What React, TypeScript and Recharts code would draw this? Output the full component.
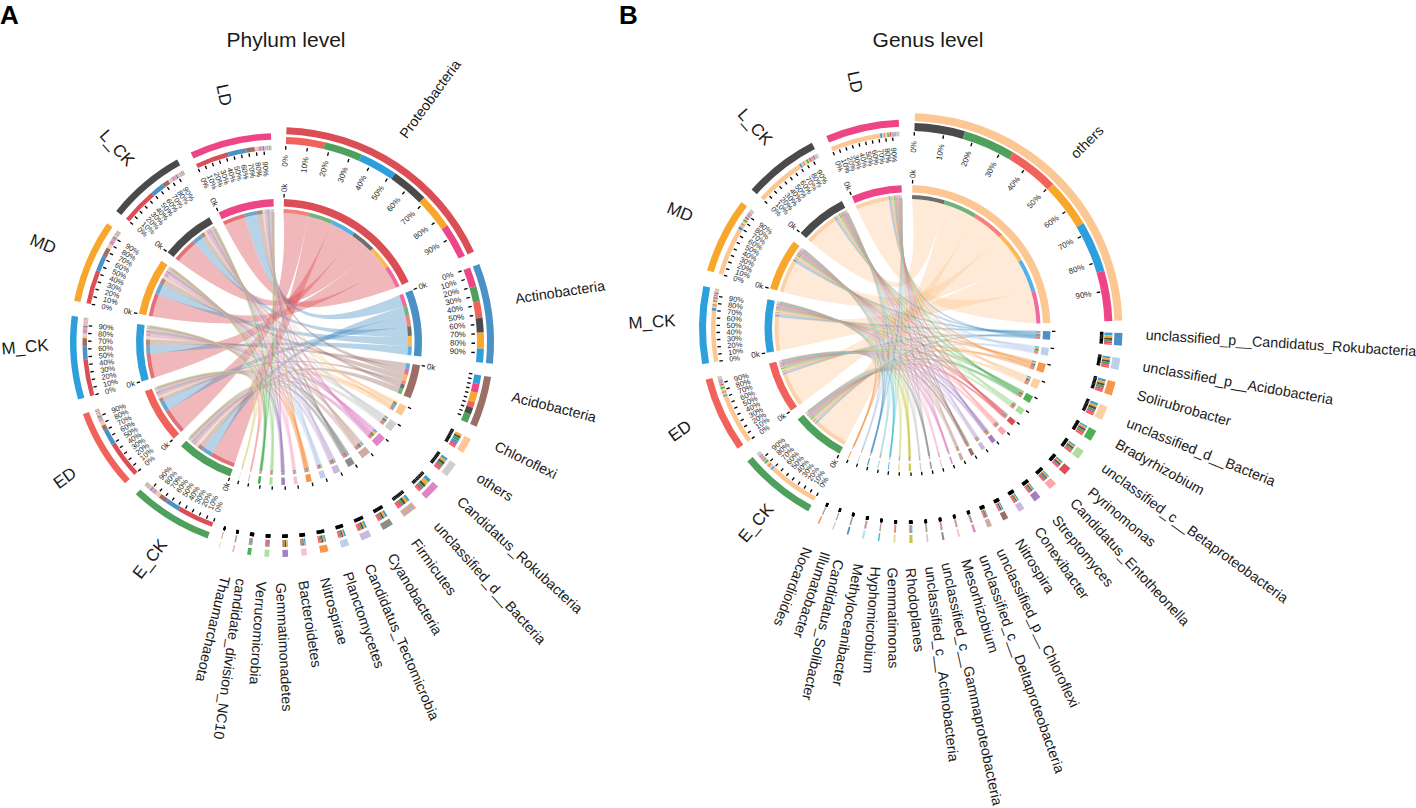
import React from 'react';
import { PieChart, Pie, Cell } from 'recharts';

const samples = ['E_CK', 'ED', 'M_CK', 'MD', 'L_CK', 'LD'];
const sampleColors = ['#4fa05c', '#f1625a', '#2d9fdc', '#f9a72c', '#4a4a4a', '#ee4587'];
const defaultOrder = [2, 3, 4, 0, 5, 1];

const phylumNames = ['Proteobacteria', 'Actinobacteria', 'Acidobacteria', 'Chloroflexi', 'others', 'Candidatus_Rokubacteria', 'unclassified_d__Bacteria', 'Firmicutes', 'Cyanobacteria', 'Candidatus_Tectomicrobia', 'Planctomycetes', 'Nitrospirae', 'Bacteroidetes', 'Gemmatimonadetes', 'Verrucomicrobia', 'candidate_division_NC10', 'Thaumarchaeota'];
const phylumColors = ['#dc4e56', '#4a92c5', '#9c6f66', '#fdc793', '#cfcfcf', '#e186c4', '#cdaca4', '#8c8c8c', '#c9b9dc', '#bcd0ec', '#f8964a', '#f8bfd8', '#a47fc2', '#aede9f', '#4eaf54', '#fba8aa', '#e1e19b'];
const phylumValues = [
  [47.5, 48, 47, 44, 46.5, 43],
  [19, 20.5, 17, 20, 18, 24],
  [11, 7, 11, 12, 8.5, 11],
  [4, 3, 3.5, 3, 2.5, 2.5],
  [3, 3, 3, 3, 3, 2.5],
  [3, 2, 4, 5, 3, 3],
  [3, 3, 3, 3, 3, 2.5],
  [2, 2, 2.5, 2.5, 2, 2],
  [2, 2, 2, 2, 2, 2],
  [1.5, 1.5, 2, 1.5, 1.5, 1.5],
  [1.5, 1.5, 1.5, 2, 1.5, 1.5],
  [1, 1, 1.5, 1, 1, 1],
  [1, 1, 1, 1, 1.5, 1],
  [1, 1, 1, 0.5, 1, 1],
  [0.8, 0.8, 0.8, 0.7, 0.7, 0.7],
  [0.3, 0.3, 0.4, 0.3, 0.3, 0.3],
  [0.1, 0.2, 0.2, 0.2, 0.1, 0.2],
];
const phylumOrders: Record<number, number[]> = {
  0: [1, 0, 2, 4, 3, 5],
  1: [5, 0, 1, 4, 3, 2],
  2: [2, 5, 3, 1, 4, 0],
  3: [3, 4, 0, 2, 5, 1],
};

const genusNames = ['others', 'unclassified_p__Candidatus_Rokubacteria', 'unclassified_p__Acidobacteria', 'Solirubrobacter', 'unclassified_d__Bacteria', 'Bradyrhizobium', 'unclassified_c__Betaproteobacteria', 'Pyrinomonas', 'Candidatus_Entotheonella', 'Streptomyces', 'Conexibacter', 'Nitrospira', 'unclassified_p__Chloroflexi', 'unclassified_c__Deltaproteobacteria', 'Mesorhizobium', 'unclassified_c__Gammaproteobacteria', 'unclassified_c__Actinobacteria', 'Rhodoplanes', 'Gemmatimonas', 'Hyphomicrobium', 'Methyloceanibacter', 'Candidatus_Solibacter', 'Illumatobacter', 'Nocardioides'];
const genusColors = ['#fdc793', '#4a92c5', '#bcd0ec', '#f8964a', '#fdcfa3', '#4eaf54', '#aede9f', '#dc4e56', '#fba8aa', '#a47fc2', '#c9b9dc', '#9c6f66', '#cdaca4', '#e186c4', '#f8bfd8', '#8c8c8c', '#cfcfcf', '#c6c640', '#e1e19b', '#3fbfd2', '#aedfe8', '#4a92c5', '#bcd0ec', '#f8964a'];
const genusValues = [
  [69, 67, 68, 65, 67, 67],
  [2, 2, 3.5, 3.5, 2.5, 2.5],
  [3, 2.5, 2.5, 2.5, 2.5, 2],
  [3.5, 3, 3, 3, 2.5, 2.5],
  [3, 3, 3, 3, 3, 2.5],
  [2.5, 2.5, 2, 2.5, 2.5, 2],
  [2, 2.5, 2, 2, 2, 1.5],
  [1.5, 1.5, 2, 2, 2, 1.5],
  [2, 1.5, 1.5, 2, 1.5, 2],
  [1.5, 1.5, 1.5, 1.5, 1.5, 1.5],
  [1.5, 1, 1.5, 1.5, 1, 1.5],
  [1, 1, 1.5, 1, 1.5, 1],
  [1, 1, 1, 1, 1, 1],
  [0.5, 0.5, 0.6, 0.5, 0.5, 0.4],
  [0.4, 0.4, 0.4, 0.5, 0.4, 0.3],
  [0.4, 0.5, 0.4, 0.5, 0.4, 0.4],
  [0.4, 0.4, 0.4, 0.4, 0.3, 0.4],
  [0.7, 0.7, 0.6, 0.7, 0.7, 0.6],
  [0.4, 0.5, 0.4, 0.5, 0.4, 0.4],
  [0.3, 0.3, 0.3, 0.3, 0.3, 0.3],
  [0.5, 0.4, 0.4, 0.5, 0.4, 0.4],
  [0.4, 0.3, 0.4, 0.4, 0.4, 0.3],
  [0.3, 0.3, 0.2, 0.3, 0.3, 0.2],
  [0.3, 0.3, 0.3, 0.3, 0.3, 0.3],
];
const genusOrders: Record<number, number[]> = {
  0: [4, 0, 1, 3, 2, 5],
};

// Hand-placed label layout: [centre x, centre y, rotation]
type Place = [number, number, number];
const phylumPlaces: Place[] = [[430, 99, -54], [560, 292, -8.5], [554, 407, 14], [526, 460, 26], [495, 487, 32], [520, 555, 42.6], [490, 583, 48], [434, 567, 54], [415, 594, 59], [402, 642, 66.8], [364, 620, 71], [334, 611, 74], [310, 624, 81], [284, 647, 87], [258, 633, 94], [230, 659, 98], [213, 629, 103.5]];
const phylumSamplePlaces: Place[] = [[150, 559, -52], [65, 478, -36], [25, 347, -5], [43, 244, 22], [117, 148, 48], [224, 95, 78]];
const genusPlaces: Place[] = [[1087, 142, -45], [1281, 343, 3.5], [1238, 383, 10], [1184, 408, 16], [1201, 452, 22], [1160, 467, 29], [1195, 533, 36], [1122, 517, 40], [1130, 562, 47], [1083, 551, 50.5], [1062, 563, 55], [1035, 566, 58], [1038, 628, 64.5], [1022, 664, 70.5], [980, 606, 73], [972, 684, 78], [942, 664, 83], [915, 610, 84], [893, 618, 89.5], [872, 620, 94], [848, 625, 100], [823, 630, 103], [812, 595, 108], [793, 587, 111]];
const genusSamplePlaces: Place[] = [[756, 523, -50], [680, 431, -35], [652, 322, -3], [680, 212, 22], [755, 127, 48], [855, 82, 78]];

const FONT = '"Liberation Sans", Arial, sans-serif';

interface PanelCfg {
  id: string; cx: number; cy: number; start: number; taxaGap: number; sampleGap: number; tailFrom: number; tailGap: number; sampleScale: number;
  names: string[]; colors: string[]; values: number[][]; orders: Record<number, number[]>;
  places: Place[]; samplePlaces: Place[]; labelled: number; zeroLabelled: number; ribbonAlpha: (t: number) => number;
  outer: [number, number]; stack: [number, number]; sOuter: [number, number]; sStack: [number, number];
}

const panels: PanelCfg[] = [
  { id: 'A', cx: 279, cy: 342, start: 2, taxaGap: 3.6, sampleGap: 4.2, tailFrom: 99, tailGap: 0, sampleScale: 1, names: phylumNames, colors: phylumColors, values: phylumValues, orders: phylumOrders, places: phylumPlaces, samplePlaces: phylumSamplePlaces, labelled: 2, zeroLabelled: 3, ribbonAlpha: (t) => (t < 3 ? 0.4 : 0.33), outer: [208, 215], stack: [198, 205], sOuter: [202.5, 209], sStack: [192, 196.5] },
  { id: 'B', cx: 907.5, cy: 328, start: 2, taxaGap: 3.3, sampleGap: 4.4, tailFrom: 13, tailGap: 0.45, sampleScale: 1.04, names: genusNames, colors: genusColors, values: genusValues, orders: genusOrders, places: genusPlaces, samplePlaces: genusSamplePlaces, labelled: 1, zeroLabelled: 1, ribbonAlpha: (t) => (t === 0 ? 0.38 : 0.27), outer: [207, 215], stack: [197, 205], sOuter: [201.5, 208.5], sStack: [192, 196.5] },
];

const RIB_R = 129;
const HUB_R = 52;
const HUB_SPREAD = 0.3;

function pt(cx: number, cy: number, r: number, deg: number): [number, number] {
  const a = (deg * Math.PI) / 180;
  return [cx + r * Math.sin(a), cy - r * Math.cos(a)];
}

type Seg = { value: number; fill: string };

function layout(p: PanelCfg) {
  const nT = p.names.length;
  const ss = p.sampleScale;
  const taxTotals = p.values.map((r) => r.reduce((a, b) => a + b, 0));
  const smpTotals = samples.map((_, s) => p.values.reduce((a, r) => a + r[s], 0));
  const sum = taxTotals.reduce((a, b) => a + b, 0) + ss * smpTotals.reduce((a, b) => a + b, 0);
  const taxaGapAt = (t: number) => p.taxaGap + (t >= p.tailFrom ? p.tailGap : 0);
  let gaps = samples.length * p.sampleGap;
  for (let t = 0; t < nT; t++) gaps += taxaGapAt(t);
  const k = (360 - gaps) / sum;
  let ang = p.start;
  const taxa: { a0: number; a1: number }[] = [];
  const links: any[][] = p.values.map(() => samples.map(() => ({})));
  const stackT: Seg[] = [], stackS: Seg[] = [], solidT: Seg[] = [], solidS: Seg[] = [];
  const blank = (list: Seg[], v: number) => list.push({ value: v, fill: 'none' });
  for (let t = 0; t < nT; t++) {
    const a0 = ang;
    const order = p.orders[t] || defaultOrder;
    order.forEach((s) => {
      const v = p.values[t][s];
      links[t][s].t0 = ang;
      ang += v * k;
      links[t][s].t1 = ang;
      stackT.push({ value: v, fill: sampleColors[s] });
    });
    taxa.push({ a0, a1: ang });
    solidT.push({ value: taxTotals[t], fill: p.colors[t] });
    const g = taxaGapAt(t) / k;
    blank(solidT, g); blank(stackT, g);
    blank(solidS, taxTotals[t] + g); blank(stackS, taxTotals[t] + g);
    ang += taxaGapAt(t);
  }
  const smp: { a0: number; a1: number }[] = [];
  samples.forEach((_, s) => {
    const a0 = ang;
    for (let t = 0; t < nT; t++) {
      const v = p.values[t][s] * ss;
      links[t][s].s0 = ang;
      ang += v * k;
      links[t][s].s1 = ang;
      stackS.push({ value: v, fill: p.colors[t] });
    }
    smp.push({ a0, a1: ang });
    solidS.push({ value: smpTotals[s] * ss, fill: sampleColors[s] });
    const g = p.sampleGap / k;
    blank(solidS, g); blank(stackS, g);
    blank(solidT, smpTotals[s] * ss + g); blank(stackT, smpTotals[s] * ss + g);
    ang += p.sampleGap;
  });
  links.forEach((row, t) => row.forEach((l, s) => {
    l.tc = (taxa[t].a0 + taxa[t].a1) / 2;
    l.sc = (smp[s].a0 + smp[s].a1) / 2;
    l.v = p.values[t][s];
  }));
  return { taxa, smp, links, solidT, solidS, stackT, stackS };
}

// Control point near a sector's hub, keeping a share of the edge's own offset so ribbons keep some width.
function hub(p: PanelCfg, centre: number, edgeAngle: number): [number, number] {
  const [hx, hy] = pt(p.cx, p.cy, HUB_R, centre);
  const [ex, ey] = pt(p.cx, p.cy, RIB_R, edgeAngle);
  const [mx, my] = pt(p.cx, p.cy, RIB_R, centre);
  return [hx + HUB_SPREAD * (ex - mx), hy + HUB_SPREAD * (ey - my)];
}

// Two joined quadratics: from one arc through its hub, then through the other hub to the other arc.
function edge(p: PanelCfg, fromC: number, fromA: number, toC: number, toA: number): string {
  const [c1x, c1y] = hub(p, fromC, fromA);
  const [c2x, c2y] = hub(p, toC, toA);
  const [x, y] = pt(p.cx, p.cy, RIB_R, toA);
  const mx = (c1x + c2x) / 2, my = (c1y + c2y) / 2;
  return `Q${c1x} ${c1y} ${mx} ${my}Q${c2x} ${c2y} ${x} ${y}`;
}

function ribbon(p: PanelCfg, l: any): string {
  const A = (a: number) => pt(p.cx, p.cy, RIB_R, a);
  const [x0, y0] = A(l.s0), [x1, y1] = A(l.s1), [x3, y3] = A(l.t1);
  const f = (a: number, b: number) => (b - a > 180 ? 1 : 0);
  return `M${x0} ${y0}A${RIB_R} ${RIB_R} 0 ${f(l.s0, l.s1)} 1 ${x1} ${y1}${edge(p, l.sc, l.s1, l.tc, l.t0)}A${RIB_R} ${RIB_R} 0 ${f(l.t0, l.t1)} 1 ${x3} ${y3}${edge(p, l.tc, l.t1, l.sc, l.s0)}Z`;
}

function ring(key: string, p: PanelCfg, data: Seg[], inner: number, outer: number, opacity = 1) {
  return (
    <Pie
      key={key}
      data={data}
      dataKey="value"
      cx={p.cx}
      cy={p.cy}
      innerRadius={inner}
      outerRadius={outer}
      startAngle={90 - p.start}
      endAngle={90 - p.start - 360}
      paddingAngle={0}
      stroke="none"
      legendType="none"
      label={false}
      labelLine={false}
      isAnimationActive={false}
    >
      {data.map((d, i) => (
        <Cell key={i} fill={d.fill} fillOpacity={opacity} stroke="none" />
      ))}
    </Pie>
  );
}

function radialText(p: PanelCfg, r: number, deg: number, text: string, key: string, outward = false, size = 8) {
  const [x, y] = pt(p.cx, p.cy, r, deg);
  const right = deg < 180;
  const rot = right ? deg - 90 : deg - 270;
  const anchor = right !== outward ? 'end' : 'start';
  return (
    <text key={key} x={x} y={y} fontSize={size} fontFamily={FONT} fill="#2a2a2a" textAnchor={anchor} dominantBaseline="central" transform={`rotate(${rot} ${x} ${y})`}>
      {text}
    </text>
  );
}

function tick(p: PanelCfg, r0: number, r1: number, deg: number, key: string) {
  const [x0, y0] = pt(p.cx, p.cy, r0, deg);
  const [x1, y1] = pt(p.cx, p.cy, r1, deg);
  return <line key={key} x1={x0} y1={y0} x2={x1} y2={y1} stroke="#000" strokeWidth={1.3} />;
}

function placed(place: Place, text: string, key: string, size: number) {
  const [x, y, rot] = place;
  return (
    <text key={key} x={x} y={y} fontSize={size} fontFamily={FONT} fill="#1a1a1a" textAnchor="middle" dominantBaseline="central" transform={`rotate(${rot} ${x} ${y})`}>
      {text}
    </text>
  );
}

function panelElements(p: PanelCfg) {
  const L = layout(p);
  const els: React.ReactNode[] = [];
  els.push(ring(p.id + 'o', p, L.solidT, p.outer[0], p.outer[1]));
  els.push(ring(p.id + 'os', p, L.solidS, p.sOuter[0], p.sOuter[1]));
  els.push(ring(p.id + 's', p, L.stackT, p.stack[0], p.stack[1]));
  els.push(ring(p.id + 'ss', p, L.stackS, p.sStack[0], p.sStack[1]));
  els.push(ring(p.id + 'i', p, L.solidT, 135.5, 143));
  els.push(ring(p.id + 'is', p, L.solidS, 135.5, 143));
  els.push(ring(p.id + 't', p, L.stackT, RIB_R, 133, 0.8));
  els.push(ring(p.id + 'ts', p, L.stackS, RIB_R, 133, 0.8));

  const overlay: React.ReactNode[] = [];
  L.links.forEach((row, t) => {
    row.forEach((l, s) => {
      const thin = l.v < 6;
      overlay.push(<path key={`r${t}-${s}`} d={ribbon(p, l)} fill={p.colors[t]} fillOpacity={p.ribbonAlpha(t)} stroke={thin ? p.colors[t] : 'none'} strokeOpacity={p.ribbonAlpha(t)} strokeWidth={thin ? 1.3 : 0} />);
    });
  });
  const doSector = (sec: { a0: number; a1: number }, key: string, pct: boolean, zero: boolean, isSample: boolean) => {
    const w = sec.a1 - sec.a0;
    for (let i = 0; i < 10; i++) {
      const a = sec.a0 + (w * i) / 10;
      if (isSample) overlay.push(tick(p, 187.5, 191, a, `${key}t${i}`));
      else overlay.push(tick(p, 192.5, 196, a, `${key}t${i}`));
      if (pct) overlay.push(radialText(p, isSample ? 181 : 187, a, `${i * 10}%`, `${key}l${i}`, false, isSample ? 7.5 : 8));
    }
    overlay.push(tick(p, 144.5, 148, sec.a0, `${key}z`));
    if (zero) overlay.push(radialText(p, 150, sec.a0, '0k', `${key}zl`, true));
  };
  L.taxa.forEach((sec, t) => doSector(sec, `t${t}`, t < p.labelled, t < p.zeroLabelled, false));
  L.smp.forEach((sec, s) => doSector(sec, `s${s}`, true, true, true));
  p.names.forEach((n, t) => overlay.push(placed(p.places[t], n, `n${t}`, 14.3)));
  samples.forEach((n, s) => overlay.push(placed(p.samplePlaces[s], n, `sn${s}`, 17)));
  return { rings: els, overlay: <g key={p.id + 'overlay'}>{overlay}</g> };
}

export default function App() {
  const built = panels.map(panelElements);
  return (
    <div style={{ position: 'absolute', left: 0, top: 0, width: 1416, height: 808, background: '#fff', overflow: 'hidden' }}>
      <PieChart width={1416} height={808} margin={{ top: 0, right: 0, bottom: 0, left: 0 }}>
        {built.flatMap((b) => b.rings)}
        {built.map((b) => b.overlay)}
        <text x={0} y={24} fontSize={26} fontWeight="bold" fontFamily={FONT} fill="#000">A</text>
        <text x={619} y={24} fontSize={26} fontWeight="bold" fontFamily={FONT} fill="#000">B</text>
        <text x={286} y={39} fontSize={21} fontFamily={FONT} fill="#1a1a1a" textAnchor="middle" dominantBaseline="central">Phylum level</text>
        <text x={928} y={39} fontSize={21} fontFamily={FONT} fill="#1a1a1a" textAnchor="middle" dominantBaseline="central">Genus level</text>
      </PieChart>
    </div>
  );
}
